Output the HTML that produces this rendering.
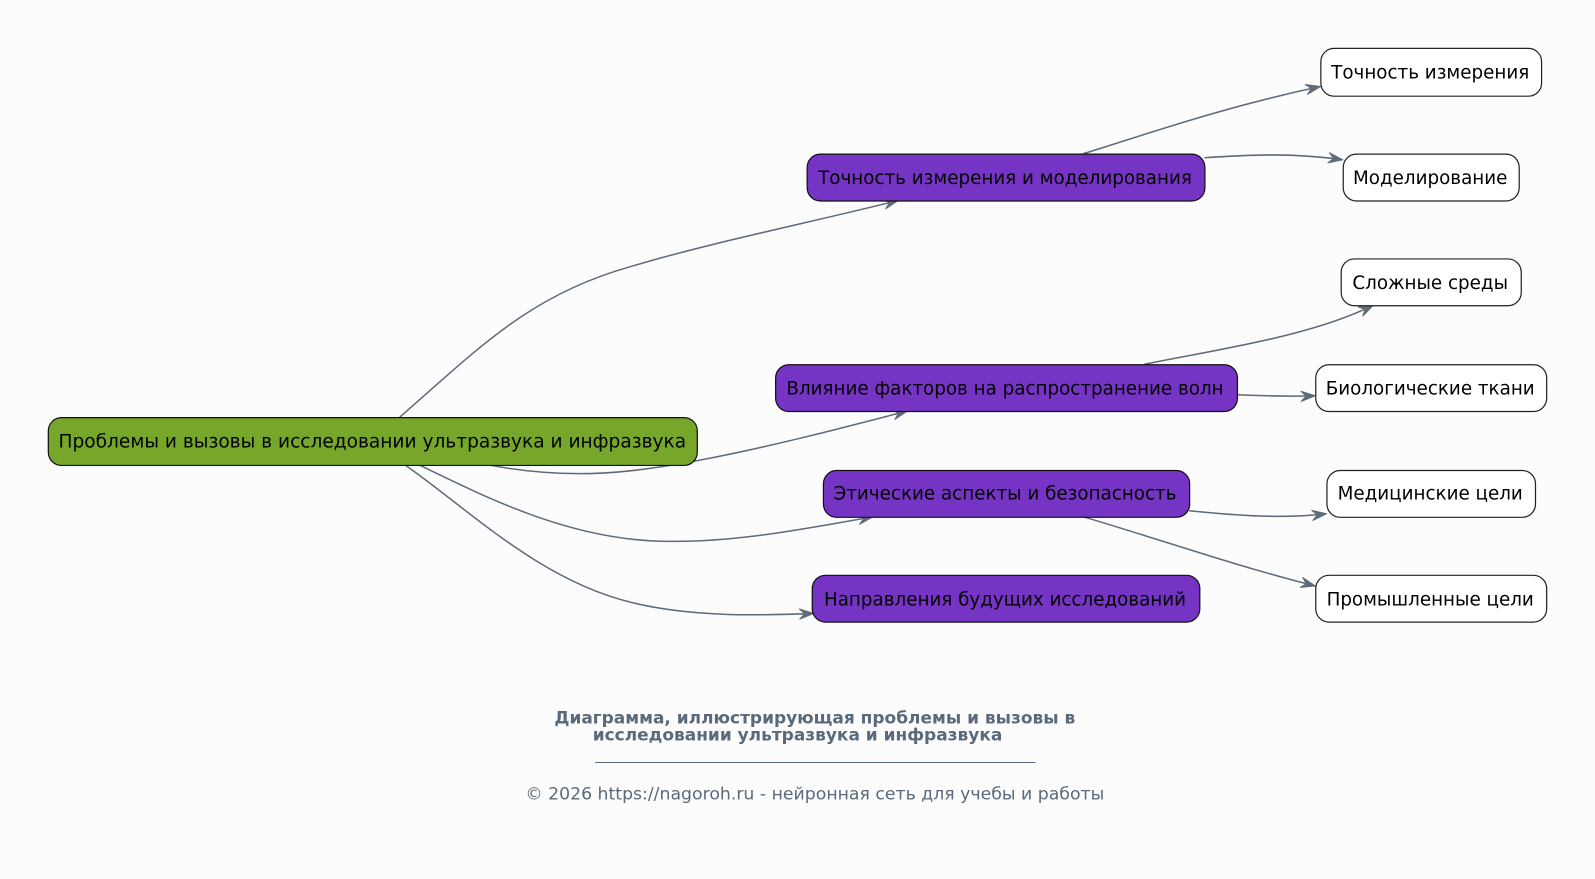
<!DOCTYPE html>
<html><head><meta charset="utf-8"><style>
html,body{margin:0;padding:0;background:#fdfcfd;}
svg{display:block;}
text{font-family:"DejaVu Sans","Liberation Sans",sans-serif;}
</style></head><body>
<svg width="1595" height="879" viewBox="0 0 1568 864" xmlns="http://www.w3.org/2000/svg">
<defs>
<marker id="a" markerWidth="16" markerHeight="12" refX="15" refY="6" orient="auto" markerUnits="userSpaceOnUse">
<path d="M1,1 L15,6 L1,11 L6,6 Z" fill="#5f6b78" stroke="#5f6b78" stroke-width="1" stroke-linejoin="round"/>
</marker>
</defs>
<g fill="none" stroke="#5f6b78" stroke-width="1.5" marker-end="url(#a)">
<path d="M393,410 C470,343 520,290 620,262 C700,238 800,218 883,197"/>
<path d="M480,457 C560,472 620,466 700,450 C770,436 830,420 892,404"/>
<path d="M412,457 C480,490 560,530 650,532 C720,534 790,520 858,508"/>
<path d="M398,457 C460,500 530,570 620,592 C680,607 750,605 800,603"/>
<path d="M1065,151 C1130,131 1200,106 1298,85"/>
<path d="M1184,155 C1230,152 1270,150 1320,157"/>
<path d="M1125,358 C1200,343 1290,330 1350,300"/>
<path d="M1216,388 C1240,389 1265,390 1293,389"/>
<path d="M1169,502 C1220,507 1260,510 1304,505"/>
<path d="M1065,508 C1140,530 1210,555 1293,576"/>
</g>
<g stroke="#111" stroke-width="1.2">
<rect x="47.5" y="410.5" width="638" height="47" rx="13" fill="#76a72b"/>
<rect x="793.5" y="151.5" width="391" height="46" rx="13" fill="#7634c4"/>
<rect x="762.5" y="358.5" width="454" height="46" rx="13" fill="#7634c4"/>
<rect x="809.5" y="462.5" width="360" height="46" rx="13" fill="#7634c4"/>
<rect x="798.5" y="565.5" width="381" height="46" rx="13" fill="#7634c4"/>
</g>
<g stroke="#222" stroke-width="1.2" fill="#fff">
<rect x="1298.5" y="47.5" width="217" height="47" rx="13"/>
<rect x="1320.5" y="151.5" width="173" height="46" rx="13"/>
<rect x="1318.5" y="254.5" width="177" height="46" rx="13"/>
<rect x="1293.5" y="358.5" width="227" height="46" rx="13"/>
<rect x="1304.5" y="462.5" width="205" height="46" rx="13"/>
<rect x="1293.5" y="565.5" width="227" height="46" rx="13"/>
</g>
<g font-size="18" fill="#000" text-anchor="middle">
<text x="366" y="440" textLength="617" lengthAdjust="spacingAndGlyphs">Проблемы и вызовы в исследовании ультразвука и инфразвука</text>
<text x="988" y="181">Точность измерения и моделирования</text>
<text x="988" y="388">Влияние факторов на распространение волн</text>
<text x="988" y="491">Этические аспекты и безопасность</text>
<text x="988" y="595">Направления будущих исследований</text>
<text x="1406" y="77">Точность измерения</text>
<text x="1406" y="181">Моделирование</text>
<text x="1406" y="284">Сложные среды</text>
<text x="1406" y="388">Биологические ткани</text>
<text x="1406" y="491">Медицинские цели</text>
<text x="1406" y="595">Промышленные цели</text>
</g>
<g fill="#5a6a7a" text-anchor="middle">
<text x="801" y="711" font-size="16.7" font-weight="bold">Диаграмма, иллюстрирующая проблемы и вызовы в</text>
<text x="784" y="728" font-size="16.7" font-weight="bold">исследовании ультразвука и инфразвука</text>
<text x="801" y="786" font-size="17">© 2026 https://nagoroh.ru - нейронная сеть для учебы и работы</text>
</g>
<line x1="585" y1="749.5" x2="1018" y2="749.5" stroke="#5a6a7a" stroke-width="1"/>
</svg>
</body></html>
